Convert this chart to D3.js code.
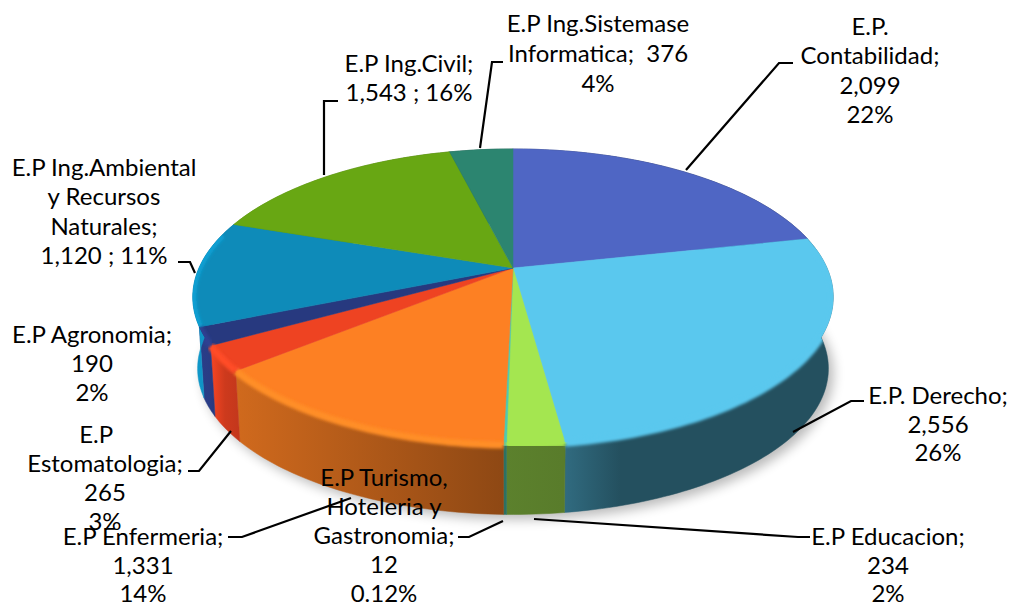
<!DOCTYPE html>
<html><head><meta charset="utf-8">
<script src="https://cdn.jsdelivr.net/npm/d3@7/dist/d3.min.js"></script>
<style>html,body{margin:0;padding:0;background:#fff}svg{display:block}text{font-family:Lato,sans-serif;font-size:24px;fill:#000;text-anchor:middle}</style>
</head><body><svg id="c" width="1013" height="606"></svg>
<script>
const categories=["E.P. Contabilidad","E.P. Derecho","E.P Educacion","E.P Turismo, Hoteleria y Gastronomia","E.P Enfermeria","E.P Estomatologia","E.P Agronomia","E.P Ing.Ambiental y Recursos Naturales","E.P Ing.Civil","E.P Ing.Sistemase Informatica"];
const values=[2099,2556,234,12,1331,265,190,1120,1543,376];
const colors=["#4f66c4","#5ac8ee","#a4e650","#4fc9b0","#fd8023","#ee4322","#27397f","#0e8bb9","#68a713","#2c8570"];
const labelLines=[
 ["E.P.","Contabilidad;","2,099","22%"],
 ["E.P. Derecho;","2,556","26%"],
 ["E.P Educacion;","234","2%"],
 ["E.P Turismo,","Hoteleria y","Gastronomia;","12","0.12%"],
 ["E.P Enfermeria;","1,331","14%"],
 ["E.P   ","Estomatologia;","265","3%"],
 ["E.P Agronomia;","190","2%"],
 ["E.P Ing.Ambiental","y Recursos","Naturales;","1,120 ; 11%"],
 ["E.P Ing.Civil;","1,543 ; 16%"],
 ["E.P Ing.Sistemase","Informatica;  376","4%"]];
// label layout: centre x, first baseline, line step
const labelPos=[[870,35,29.3],[938,404,28.5],[888,545,28.5],[384,486,29],[143,545,28.5],[105,443,29],[92,343,29],[104,176,29.3],[409,72,29],[598,32,30]];
const leaders=[
 [[686,170],[779,63],[793,63]],
 [[793,432],[851,401],[864,401]],
 [[534,519],[798,537],[810,537]],
 [[503,521],[469,537],[458,537]],
 [[351,498],[242,537],[228,537]],
 [[231,431],[199,471],[188,471]],
 null,
 [[195,273],[190,262],[178,262]],
 [[324,175],[324,101],[338,101]],
 [[480,148],[492,62],[503,62]]];

const svg=d3.select("#c"),defs=svg.append("defs");
const cx=513,cy=268,A=314,B=142.4,k=0.196,depth=72,shrink=0.985;
const rimFrom=82*Math.PI/180,rimTo=284*Math.PI/180;
function proj(a,base){const x=Math.sin(a),y=Math.cos(a),w=1+k*y,s=base?shrink:1,d=base?depth:0;
  return [cx+s*A*x/w, cy+d-s*B*y/w];}
function sample(a0,a1){const n=Math.max(2,Math.ceil(Math.abs(a1-a0)/0.02));return d3.range(n+1).map(i=>a0+(a1-a0)*i/n);}
const line=d3.line();
const arcs=d3.pie().sort(null)(values);

const shade=d3.scaleLinear().domain([190,210,225,240,504,563,620,832]).range([1.1,1.05,.86,.82,.56,.54,.4,.4]).clamp(true);
const glow=d3.scaleLinear().domain([190,480,520,832]).range([1.15,1.07,1,1]).clamp(true);
const mult=(c,f)=>{const r=d3.rgb(c);return d3.rgb(r.r*f,r.g*f,r.b*f).formatHex();};

const fS=defs.append("filter").attr("id","sh").attr("x","-20%").attr("y","-20%").attr("width","140%").attr("height","140%");
fS.append("feGaussianBlur").attr("stdDeviation",6);
const fR=defs.append("filter").attr("id","rim").attr("x","-10%").attr("y","-10%").attr("width","120%").attr("height","120%");
fR.append("feGaussianBlur").attr("stdDeviation",1.6);

const ring=sample(0,2*Math.PI);
// silhouette clip: top face plus wall
const clip=defs.append("clipPath").attr("id","body");
clip.append("path").attr("d",line(ring.map(a=>proj(a,false)))+"Z");
clip.append("path").attr("d",line(ring.map(a=>proj(a,true)))+"Z");
const wallFront=sample(rimFrom,rimTo);
clip.append("path").attr("d",line(wallFront.map(a=>proj(a,false)).concat(wallFront.slice().reverse().map(a=>proj(a,true))))+"Z");

// ground shadow
svg.append("path").attr("d",line(ring.map(a=>{const p=proj(a,true);return [p[0]+5,p[1]+5];}))+"Z")
  .attr("fill","#000").attr("opacity",.27).attr("filter","url(#sh)");

// side walls
arcs.forEach((d,i)=>{
  const g=defs.append("linearGradient").attr("id","g"+i).attr("gradientUnits","userSpaceOnUse").attr("x1",190).attr("x2",832).attr("y1",0).attr("y2",0);
  shade.domain().forEach(x=>g.append("stop").attr("offset",(x-190)/642).attr("stop-color",mult(colors[i],shade(x))));
  const as=sample(d.startAngle,d.endAngle);
  const pts=as.map(a=>proj(a,false)).concat(as.slice().reverse().map(a=>proj(a,true)));
  svg.append("path").attr("d",line(pts)+"Z").attr("fill",`url(#g${i})`).attr("stroke",`url(#g${i})`).attr("stroke-width",.5);
});
// top faces
arcs.forEach((d,i)=>{
  const pts=[[cx,cy]].concat(sample(d.startAngle,d.endAngle).map(a=>proj(a,false)));
  svg.append("path").attr("d",line(pts)+"Z").attr("fill",colors[i]).attr("stroke",colors[i]).attr("stroke-width",.5);
});
// soft bevel along the front rim
const rimG=svg.append("g").attr("clip-path","url(#body)");
arcs.forEach((d,i)=>{
  const a0=Math.max(d.startAngle,rimFrom),a1=Math.min(d.endAngle,rimTo);
  if(a1<=a0)return;
  const pts=sample(a0,a1).map(a=>proj(a,false));
  const mx=proj((a0+a1)/2,false)[0];
  rimG.append("path").attr("d",line(pts)).attr("fill","none").attr("stroke",mult(colors[i],glow(mx)))
    .attr("stroke-width",7).attr("filter","url(#rim)");
});
// leaders
leaders.forEach(l=>{if(l)svg.append("path").attr("d",line(l)).attr("fill","none").attr("stroke","#000").attr("stroke-width",2.2);});
// labels
labelLines.forEach((ls,i)=>{
  const [x,y,st]=labelPos[i];
  const t=svg.append("text").style("white-space","pre");
  ls.forEach((s,j)=>t.append("tspan").attr("x",x).attr("y",y+j*st).text(s));
});
</script></body></html>
